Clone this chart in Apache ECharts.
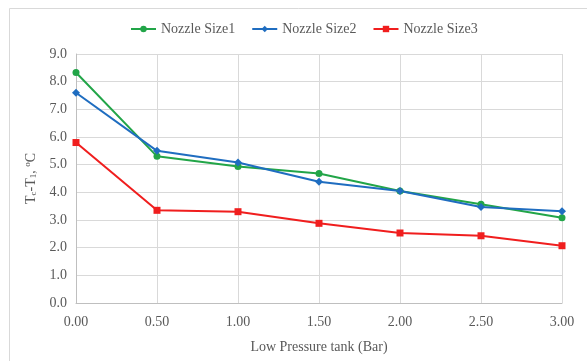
<!DOCTYPE html>
<html>
<head>
<meta charset="utf-8">
<script src="https://cdn.jsdelivr.net/npm/echarts@6/dist/echarts.min.js"></script>
<style>
  html, body { margin: 0; padding: 0; background: #fff; }
  #chart { width: 587px; height: 361px; }
</style>
</head>
<body>
<div id="chart"></div>
<script>
// pressure in the low pressure tank (Bar)
const pressure = [0, 0.5, 1.0, 1.5, 2.0, 2.5, 3.0];
const size1 = [8.33, 5.3, 4.93, 4.68, 4.05, 3.57, 3.08];
const size2 = [7.6, 5.5, 5.08, 4.38, 4.05, 3.47, 3.32];
const size3 = [5.8, 3.35, 3.3, 2.88, 2.53, 2.43, 2.07];
const seriesNames = ['Nozzle Size1', 'Nozzle Size2', 'Nozzle Size3'];

const font = 'Liberation Serif';
const textColor = '#595959';

const chart = echarts.init(document.getElementById('chart'));

const pairs = (ys) => pressure.map((x, i) => [x, ys[i]]);

const option = {
  animation: false,
  backgroundColor: '#fff',
  graphic: [{
    type: 'rect',
    shape: { x: 9.5, y: 8.5, width: 600, height: 400 },
    style: { fill: 'none', stroke: '#D9D9D9', lineWidth: 1 },
    silent: true
  }],
  legend: {
    top: 17,
    left: 125,
    itemWidth: 25,
    itemHeight: 8,
    itemGap: 16,
    textStyle: { fontFamily: font, fontSize: 14, color: textColor },
    data: seriesNames
  },
  grid: { left: 76, right: 25, top: 54, bottom: 58 },
  xAxis: {
    type: 'value',
    min: 0,
    max: 3,
    interval: 0.5,
    name: 'Low Pressure tank (Bar)',
    nameLocation: 'middle',
    nameGap: 37,
    nameTextStyle: { fontFamily: font, fontSize: 14, color: textColor },
    axisLine: { lineStyle: { color: '#BFBFBF' } },
    axisTick: { show: false },
    axisLabel: {
      margin: 12,
      fontFamily: font, fontSize: 14, color: textColor,
      formatter: (v) => v.toFixed(2)
    },
    splitLine: { show: true, lineStyle: { color: '#D9D9D9' } }
  },
  yAxis: {
    type: 'value',
    min: 0,
    max: 9,
    interval: 1,
    name: '{n|T}{sub|c}{n|-T}{sub|1}{n|, }{sup|o}{n|C}',
    nameLocation: 'middle',
    nameGap: 34,
    nameRotate: 90,
    nameTextStyle: {
      fontFamily: font, fontSize: 14, color: textColor,
      rich: {
        n: { fontFamily: font, fontSize: 14, color: textColor },
        sub: { fontFamily: font, fontSize: 9, color: textColor, verticalAlign: 'bottom', padding: [6, 0, 0, 0] },
        sup: { fontFamily: font, fontSize: 9, color: textColor, verticalAlign: 'top', padding: [0, 0, 6, 0] }
      }
    },
    axisLine: { show: true, lineStyle: { color: '#BFBFBF' } },
    axisTick: { show: false },
    axisLabel: {
      margin: 9,
      fontFamily: font, fontSize: 14, color: textColor,
      formatter: (v) => v.toFixed(1)
    },
    splitLine: { show: true, lineStyle: { color: '#D9D9D9' } }
  },
  series: [
    {
      name: seriesNames[0],
      type: 'line',
      data: pairs(size1),
      symbol: 'circle',
      symbolSize: 7,
      color: '#22A548',
      lineStyle: { width: 2 }
    },
    {
      name: seriesNames[1],
      type: 'line',
      data: pairs(size2),
      symbol: 'diamond',
      symbolSize: 8,
      color: '#1F6DC0',
      lineStyle: { width: 2 }
    },
    {
      name: seriesNames[2],
      type: 'line',
      data: pairs(size3),
      symbol: 'rect',
      symbolSize: 7,
      color: '#F01E1E',
      lineStyle: { width: 2 }
    }
  ]
};

chart.setOption(option);
</script>
</body>
</html>
